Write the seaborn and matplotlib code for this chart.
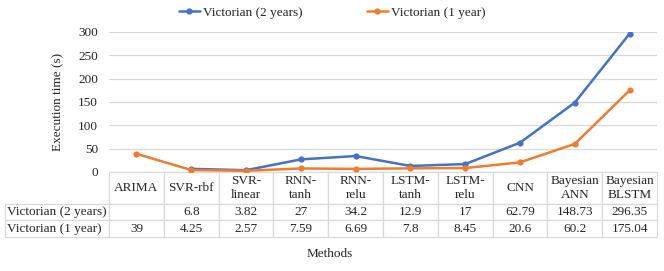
import numpy as np
import pandas as pd
import matplotlib
matplotlib.use("Agg")
import matplotlib.pyplot as plt
import seaborn as sns

# Data
methods = ["ARIMA", "SVR-rbf", "SVR-\nlinear", "RNN-\ntanh", "RNN-\nrelu",
           "LSTM-\ntanh", "LSTM-\nrelu", "CNN", "Bayesian\nANN", "Bayesian\nBLSTM"]
vic_2y = [np.nan, 6.8, 3.82, 27, 34.2, 12.9, 17, 62.79, 148.73, 296.35]
vic_1y = [39, 4.25, 2.57, 7.59, 6.69, 7.8, 8.45, 20.6, 60.2, 175.04]
series_names = ["Victorian (2 years)", "Victorian (1 year)"]
yticks = [0, 50, 100, 150, 200, 250, 300]

sns.set_theme(style="white")
plt.rcParams["font.family"] = ["Liberation Serif", "DejaVu Serif"]

pos = np.arange(len(methods))
df = pd.DataFrame({
    "pos": np.concatenate([pos, pos]),
    "time": vic_2y + vic_1y,
    "series": [series_names[0]] * len(pos) + [series_names[1]] * len(pos),
})

fig = plt.figure(figsize=(6.64, 2.71), dpi=100)
ax = fig.add_axes([109 / 664, 1 - 172 / 271, 548 / 664, 140 / 271])

sns.lineplot(data=df, x="pos", y="time", hue="series", hue_order=series_names,
             palette=["#4472C4", "#ED7D31"], marker="o", markersize=4.5,
             markeredgewidth=0, linewidth=1.8, ax=ax)

ax.set_xlim(-0.5, len(methods) - 0.5)
ax.set_ylim(0, 300)
ax.set_yticks(yticks)
ax.set_yticklabels([str(t) for t in yticks], fontsize=9.5)
ax.set_xticks([])
ax.set_xlabel("")
ax.set_ylabel("Execution time (s)", fontsize=9.5, labelpad=10)
ax.tick_params(axis="y", length=0, pad=8)
ax.grid(axis="y", color="#d9d9d9", linewidth=0.9)
for s in ax.spines.values():
    s.set_visible(False)

leg = ax.legend(loc="lower center", bbox_to_anchor=((332 - 109) / 548, 1.0), ncol=2,
                frameon=False, fontsize=9.5, handlelength=1.6,
                handletextpad=0.2, columnspacing=4.9, borderaxespad=0.6)

# Data table below the plot
def fmt(v):
    if np.isnan(v):
        return ""
    return f"{v:g}"

cell_text = [[""] + methods,
             [series_names[0]] + [fmt(v) for v in vic_2y],
             [series_names[1]] + [fmt(v) for v in vic_1y]]
label_w = 104 / 548
tbl = ax.table(cellText=cell_text, cellLoc="center",
               bbox=[-label_w, -65 / 140, 1 + label_w, 65 / 140])
tbl.auto_set_font_size(False)
tbl.set_fontsize(9.5)
col_w = 1 / len(methods)
for (r, c), cell in tbl.get_celld().items():
    cell.set_edgecolor("#d9d9d9")
    cell.set_linewidth(0.9)
    cell.set_width(label_w if c == 0 else col_w)
    cell.set_height(32 if r == 0 else 17)
    if c == 0 and r > 0:
        cell.set_text_props(ha="left")
        cell.PAD = 0.02
    if r == 0 and c == 0:
        cell.visible_edges = ""

fig.text(330 / 664, 1 - 254 / 271, "Methods", ha="center", va="center",
         fontsize=9.5)

fig.savefig("out.png", dpi=100)
